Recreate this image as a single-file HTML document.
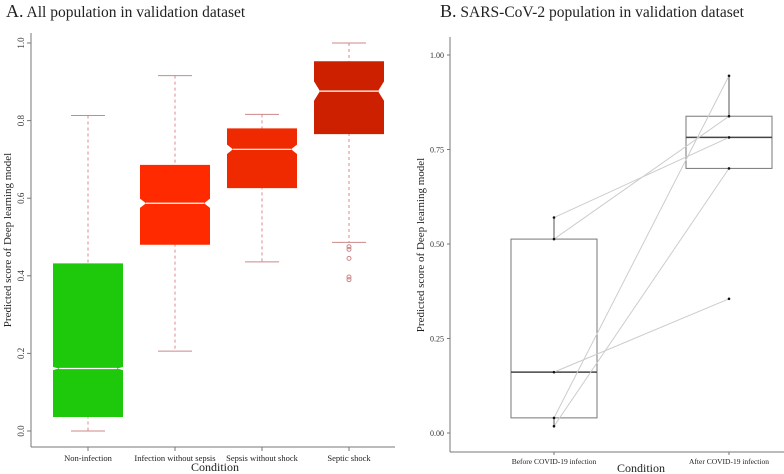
<!DOCTYPE html>
<html><head><meta charset="utf-8"><style>
html,body{margin:0;padding:0;background:#fff}
svg{display:block;font-family:"Liberation Serif",serif}
</style></head><body>
<svg id="s" width="784" height="474" viewBox="0 0 784 474" xmlns="http://www.w3.org/2000/svg">
<text x="6" y="17" font-size="15.5" fill="#222"><tspan font-size="18">A.</tspan> All population in validation dataset</text>
<text x="440" y="17" font-size="15.5" fill="#222"><tspan font-size="18">B.</tspan> SARS-CoV-2 population in validation dataset</text>
<g id="ga"></g>
<g id="gb"></g>
</svg>
<script>
// Chart A data
const catsA = ["Non-infection","Infection without sepsis","Sepsis without shock","Septic shock"];
const lowA = [0.0,0.206,0.436,0.486];
const q1A = [0.036,0.48,0.626,0.765];
const medA = [0.161,0.587,0.726,0.876];
const q3A = [0.432,0.686,0.78,0.953];
const highA = [0.813,0.916,0.816,1.0];
const notchA = [0.004,0.012,0.012,0.025];
const colorsA = ["#1ec90c","#ff2a00","#f02a00","#cc2000"];
const outliersA = [[],[],[],[0.475,0.468,0.445,0.397,0.39]];
const ticksA = [0.0,0.2,0.4,0.6,0.8,1.0];
const tickLabA = ["0.0","0.2","0.4","0.6","0.8","1.0"];
// Chart B data
const catsB = ["Before COVID-19 infection","After COVID-19 infection"];
const beforeB = [0.57,0.513,0.161,0.04,0.018];
const afterB = [0.782,0.838,0.355,0.945,0.70];
const statsBq1 = [0.04,0.70];
const statsBmed = [0.161,0.782];
const statsBq3 = [0.513,0.838];
const statsBlow = [0.018,0.70];
const statsBhigh = [0.57,0.945];
const ticksB = [0,0.25,0.5,0.75,1.0];
const tickLabB = ["0.00","0.25","0.50","0.75","1.00"];

const NS="http://www.w3.org/2000/svg";
function mk(p,t,a){const e=document.createElementNS(NS,t);for(const k in a)e.setAttribute(k,a[k]);p.appendChild(e);return e;}
const ya=v=>431-v*388, xa=i=>88+i*87;
const ga=document.getElementById('ga');
let e;
e=mk(ga,'line',{x1:31,y1:33,x2:31,y2:447,stroke:'#777'});


e=mk(ga,'line',{x1:31,y1:447,x2:395,y2:447,stroke:'#777'});


ticksA.forEach((t,i)=>{
 mk(ga,'line',{x1:27,y1:ya(t),x2:31,y2:ya(t),stroke:'#777'});
 e=mk(ga,'text',{x:0,y:0,'font-size':9,'text-anchor':'middle',fill:'#333',transform:`translate(24,${ya(t)}) rotate(-90)`});
 e.textContent=tickLabA[i];
 
 
});
e=mk(ga,'text',{x:0,y:0,'font-size':11,'text-anchor':'middle',fill:'#222',transform:'translate(11,240) rotate(-90)'});
e.textContent='Predicted score of Deep learning model';


e=mk(ga,'text',{x:215,y:471,'font-size':12,'text-anchor':'middle',fill:'#222'});
e.textContent='Condition';


catsA.forEach((c,i)=>{
 const x=xa(i),w=35,ni=6;
 mk(ga,'line',{x1:x,y1:ya(highA[i]),x2:x,y2:ya(lowA[i]),stroke:'#d88',"stroke-dasharray":'3,3'});
 mk(ga,'line',{x1:x-17,y1:ya(highA[i]),x2:x+17,y2:ya(highA[i]),stroke:'#c88'});
 mk(ga,'line',{x1:x-17,y1:ya(lowA[i]),x2:x+17,y2:ya(lowA[i]),stroke:'#c88'});
 const t=ya(q3A[i]),b=ya(q1A[i]),m=ya(medA[i]),nu=ya(medA[i]+notchA[i]),nd=ya(medA[i]-notchA[i]);
 e=mk(ga,'path',{d:`M${x-w},${t}L${x+w},${t}L${x+w},${nu}L${x+w-ni},${m}L${x+w},${nd}L${x+w},${b}L${x-w},${b}L${x-w},${nd}L${x-w+ni},${m}L${x-w},${nu}Z`,fill:colorsA[i]});
 
 
 mk(ga,'line',{x1:x-w+ni,y1:m,x2:x+w-ni,y2:m,stroke:'#fff','stroke-width':1.2});
 outliersA[i].forEach(o=>mk(ga,'circle',{cx:x,cy:ya(o),r:2,fill:'none',stroke:'#c88'}));
 mk(ga,'line',{x1:x,y1:447,x2:x,y2:451,stroke:'#777'});
 e=mk(ga,'text',{x:x,y:461,'font-size':8.5,'text-anchor':'middle',fill:'#222'});
 e.textContent=c;
 
 
});
// Chart B
const yb=v=>433-v*378, xb=i=>554+i*175;
const gb=document.getElementById('gb');
e=mk(gb,'line',{x1:450,y1:37,x2:450,y2:452,stroke:'#777'});


e=mk(gb,'line',{x1:450,y1:452,x2:784,y2:452,stroke:'#777'});


ticksB.forEach((t,i)=>{
 mk(gb,'line',{x1:447,y1:yb(t),x2:450,y2:yb(t),stroke:'#777'});
 e=mk(gb,'text',{x:444,y:yb(t)+3,'font-size':8,'text-anchor':'end',fill:'#333'});
 e.textContent=tickLabB[i];
 
 
});
e=mk(gb,'text',{x:0,y:0,'font-size':11,'text-anchor':'middle',fill:'#222',transform:'translate(424,245) rotate(-90)'});
e.textContent='Predicted score of Deep learning model';


e=mk(gb,'text',{x:641,y:472,'font-size':12,'text-anchor':'middle',fill:'#222'});
e.textContent='Condition';


catsB.forEach((c,i)=>{
 const x=xb(i),w=43;
 mk(gb,'line',{x1:x,y1:yb(statsBhigh[i]),x2:x,y2:yb(statsBlow[i]),stroke:'#555'});
 e=mk(gb,'rect',{x:x-w,y:yb(statsBq3[i]),width:2*w,height:yb(statsBq1[i])-yb(statsBq3[i]),fill:'#fff',stroke:'#777'});
 
 
 mk(gb,'line',{x1:x-w,y1:yb(statsBmed[i]),x2:x+w,y2:yb(statsBmed[i]),stroke:'#444','stroke-width':1.5});
 mk(gb,'line',{x1:x,y1:452,x2:x,y2:455,stroke:'#777'});
 e=mk(gb,'text',{x:x,y:464,'font-size':7.5,'text-anchor':'middle',fill:'#222'});
 e.textContent=c;
 
 
});
beforeB.forEach((v,i)=>{
 e=mk(gb,'line',{x1:xb(0),y1:yb(v),x2:xb(1),y2:yb(afterB[i]),stroke:'#ccc'});
 
 
});
beforeB.forEach((v,i)=>{
 e=mk(gb,'circle',{cx:xb(0),cy:yb(v),r:1.3,fill:'#111'});
 
 
 e=mk(gb,'circle',{cx:xb(1),cy:yb(afterB[i]),r:1.3,fill:'#111'});
 
 
});
</script>
</body></html>
